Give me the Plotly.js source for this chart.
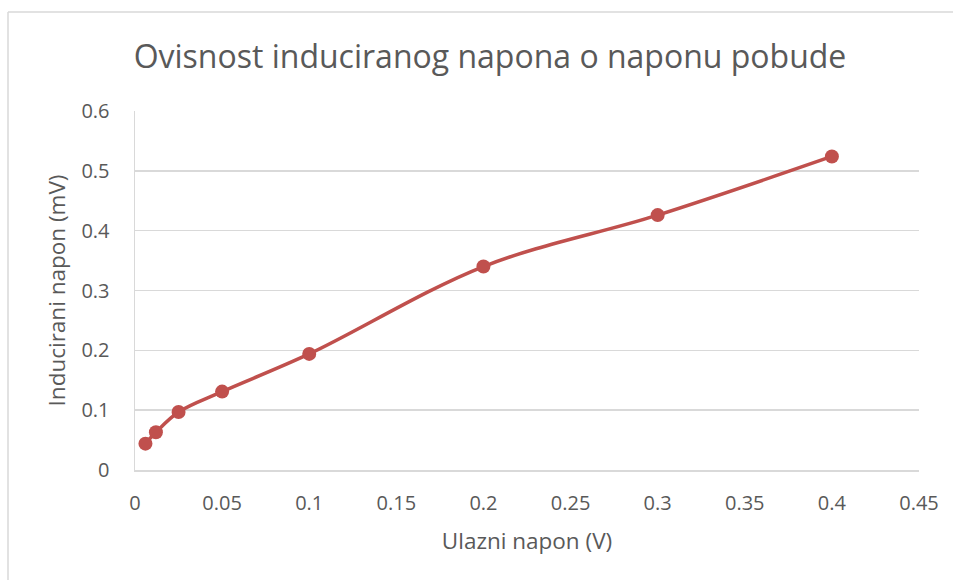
<!DOCTYPE html>
<html>
<head>
<meta charset="utf-8">
<script src="https://cdn.plot.ly/plotly-3.0.1.min.js"></script>
<style>html,body{margin:0;padding:0;background:#fff;}#chart{width:953px;height:580px;}</style>
</head>
<body>
<div id="chart"></div>
<script>
const xValues = [0.006, 0.012, 0.025, 0.05, 0.1, 0.2, 0.3, 0.4];
const yValues = [0.044, 0.063, 0.097, 0.131, 0.194, 0.340, 0.426, 0.524];
const xTicks = [0, 0.05, 0.1, 0.15, 0.2, 0.25, 0.3, 0.35, 0.4, 0.45];
const xTickLabels = ['0', '0.05', '0.1', '0.15', '0.2', '0.25', '0.3', '0.35', '0.4', '0.45'];
const yTicks = [0, 0.1, 0.2, 0.3, 0.4, 0.5, 0.6];
const yTickLabels = ['0', '0.1', '0.2', '0.3', '0.4', '0.5', '0.6'];
const chartTitle = 'Ovisnost induciranog napona o naponu pobude';
const xTitle = 'Ulazni napon (V)';
const yTitle = 'Inducirani napon (mV)';

const font = 'Open Sans, sans-serif';
const trace = {
  x: xValues, y: yValues, type: 'scatter', mode: 'lines+markers',
  line: {color: '#c0504d', width: 3.5, shape: 'spline', smoothing: 1},
  marker: {color: '#c0504d', size: 14},
  hoverinfo: 'none'
};
const layout = {
  width: 953, height: 580,
  margin: {l: 135, r: 34, t: 111, b: 110, pad: 0},
  paper_bgcolor: '#ffffff', plot_bgcolor: '#ffffff',
  showlegend: false,
  title: {text: chartTitle, font: {family: font, size: 32, color: '#595959'},
    x: 490/953, xref: 'container', xanchor: 'center', y: 1 - 57/580, yref: 'container', yanchor: 'middle'},
  xaxis: {range: [0, 0.45], tickvals: xTicks, ticktext: xTickLabels, showgrid: false,
    showline: true, linecolor: '#d9d9d9', linewidth: 1.5, zeroline: false, ticks: '',
    ticklabelstandoff: 14,
    tickfont: {family: font, size: 20, color: '#595959'},
    title: {text: xTitle, font: {family: font, size: 22.5, color: '#595959'}, standoff: 18}},
  yaxis: {range: [0, 0.6], tickvals: yTicks, ticktext: yTickLabels, showgrid: true,
    gridcolor: '#d9d9d9', gridwidth: 1.5,
    showline: true, linecolor: '#d9d9d9', linewidth: 1.5, zeroline: false, ticks: '',
    ticklabelstandoff: 20,
    tickfont: {family: font, size: 20, color: '#595959'},
    title: {text: yTitle, font: {family: font, size: 22.5, color: '#595959'}, standoff: 9}},
  shapes: [
    {type: 'line', xref: 'paper', yref: 'paper', x0: -127/784, x1: 1.1, y0: 1 + 99/359, y1: 1 + 99/359, line: {color: '#d9d9d9', width: 1.5}},
    {type: 'line', xref: 'paper', yref: 'paper', x0: -127/784, x1: -127/784, y0: 1 + 99/359, y1: -0.4, line: {color: '#d9d9d9', width: 1.5}}
  ]
};
Plotly.newPlot('chart', [trace], layout, {displayModeBar: false, staticPlot: true});
</script>
</body>
</html>
